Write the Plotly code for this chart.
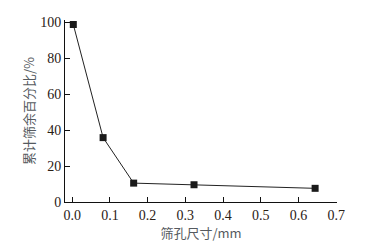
import plotly.graph_objects as go

sieve_size = [0.003, 0.082, 0.163, 0.323, 0.644]
residue_pct = [98.7, 35.8, 10.5, 9.6, 7.6]
x_ticks = [0.0, 0.1, 0.2, 0.3, 0.4, 0.5, 0.6, 0.7]
x_tick_text = ["0.0", "0.1", "0.2", "0.3", "0.4", "0.5", "0.6", "0.7"]
y_ticks = [0, 20, 40, 60, 80, 100]

fig = go.Figure()
fig.add_trace(go.Scatter(
    x=sieve_size, y=residue_pct, mode="lines+markers",
    line=dict(color="#222222", width=1),
    marker=dict(symbol="square", size=7, color="#1a1a1a"),
    showlegend=False,
))

tickfont = dict(family="Liberation Serif", size=14, color="#2a2015")
titlefont = dict(family="Noto Sans CJK SC, Liberation Serif", size=13, color="#555a60")
fig.update_layout(
    width=375, height=249,
    margin=dict(l=65, r=38, t=20, b=47),
    paper_bgcolor="white", plot_bgcolor="white",
    xaxis=dict(
        range=[-0.019, 0.702], tickvals=x_ticks, ticktext=x_tick_text,
        ticks="inside", ticklen=5, tickcolor="#111", showline=True,
        linecolor="#111", linewidth=1, showgrid=False, zeroline=False,
        tickfont=tickfont, automargin=False,
        title=dict(text="筛孔尺寸/mm", font=titlefont, standoff=6),
    ),
    yaxis=dict(
        range=[0, 101.2], tickvals=y_ticks,
        ticks="inside", ticklen=5, tickcolor="#111", showline=True,
        linecolor="#111", linewidth=1, showgrid=False, zeroline=False,
        tickfont=tickfont, automargin=False,
        title=dict(text="累计筛余百分比/%", font=titlefont, standoff=2),
    ),
)
fig.write_html("out.html", config={"displayModeBar": False},
               post_script="document.body.style.margin='0';")
